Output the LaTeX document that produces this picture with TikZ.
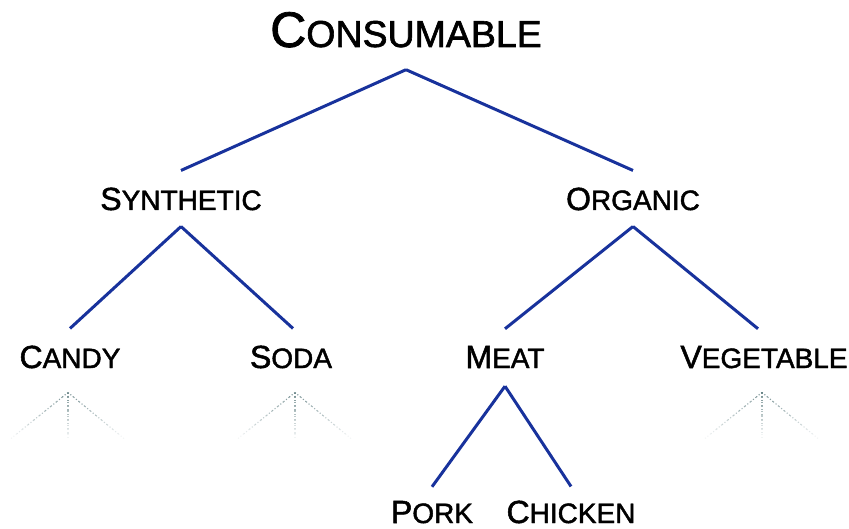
\documentclass[tikz,border=0pt]{standalone}
\usepackage{fontspec}
\setmainfont{Liberation Sans}
\newfontfamily\lblfont[FakeBold=1.6]{Liberation Sans}
\usetikzlibrary{calc}
\definecolor{edgeblue}{RGB}{24,50,156}
\definecolor{fadegray}{RGB}{95,125,128}
\newcommand\capword[4]{{\lblfont\fontsize{#1}{#1}\selectfont #3}{\lblfont\fontsize{#2}{#2}\selectfont #4}}
\tikzset{
  lbl/.style={inner sep=0pt, anchor=base},
  edge/.style={draw=edgeblue, line width=3pt},
  fdot/.style={draw=fadegray, line width=1.1pt, dotted}
}
\begin{document}
\begin{tikzpicture}[x=1pt,y=-1pt]
\useasboundingbox (0,0) rectangle (849,529);
% nodes
\node[lbl] (cons) at (406,47) {\capword{50}{37.5}{C}{ONSUMABLE}};
\node[lbl] (syn) at (181,210) {\capword{32}{28}{S}{YNTHETIC}};
\node[lbl] (org) at (633,210) {\capword{32}{28}{O}{RGANIC}};
\node[lbl] (candy) at (70,368) {\capword{32}{28}{C}{ANDY}};
\node[lbl] (soda) at (291,368) {\capword{32}{28}{S}{ODA}};
\node[lbl] (meat) at (505,368) {\capword{32}{28}{M}{EAT}};
\node[lbl] (veg) at (764,368) {\capword{32}{28}{V}{EGETABLE}};
\node[lbl] (pork) at (432,523) {\capword{32}{28}{P}{ORK}};
\node[lbl] (chick) at (571,523) {\capword{32}{28}{C}{HICKEN}};
% connectors
\draw[edge] ([yshift=-22pt]cons.south) -- ([yshift=17pt]syn.north);
\draw[edge] ([yshift=-22pt]cons.south) -- ([yshift=17pt]org.north);
\draw[edge] ([yshift=-16pt]syn.south) -- ([yshift=17pt]candy.north);
\draw[edge] ([yshift=-16pt]syn.south) -- ([xshift=2pt,yshift=17pt]soda.north);
\draw[edge] ([yshift=-16pt]org.south) -- ([yshift=17pt]meat.north);
\draw[edge] ([yshift=-16pt]org.south) -- ([xshift=-6pt,yshift=17pt]veg.north);
\draw[edge] ([yshift=-18pt]meat.south) -- ([yshift=14pt]pork.north);
\draw[edge] ([yshift=-18pt]meat.south) -- ([yshift=14pt]chick.north);
% faint dotted fans
\coordinate (candy-f) at ([xshift=-2pt,yshift=-24pt]candy.south);
\coordinate (soda-f) at ([xshift=4pt,yshift=-24pt]soda.south);
\coordinate (veg-f) at ([xshift=-2pt,yshift=-24pt]veg.south);
\foreach \c in {candy,soda,veg}{
  \foreach \dx/\k in {-57/l,0/m,56/r}{
    \path (\c-f) ++(\dx,46) coordinate (\c-\k);
    \foreach \i in {0,...,9}{
      \pgfmathsetmacro\op{0.8*(1-\i/10)}
      \draw[fdot,draw opacity=\op] ($(\c-f)!{\i/10}!(\c-\k)$) -- ($(\c-f)!{(\i+1)/10}!(\c-\k)$);
    }
  }
}
\end{tikzpicture}
\end{document}
